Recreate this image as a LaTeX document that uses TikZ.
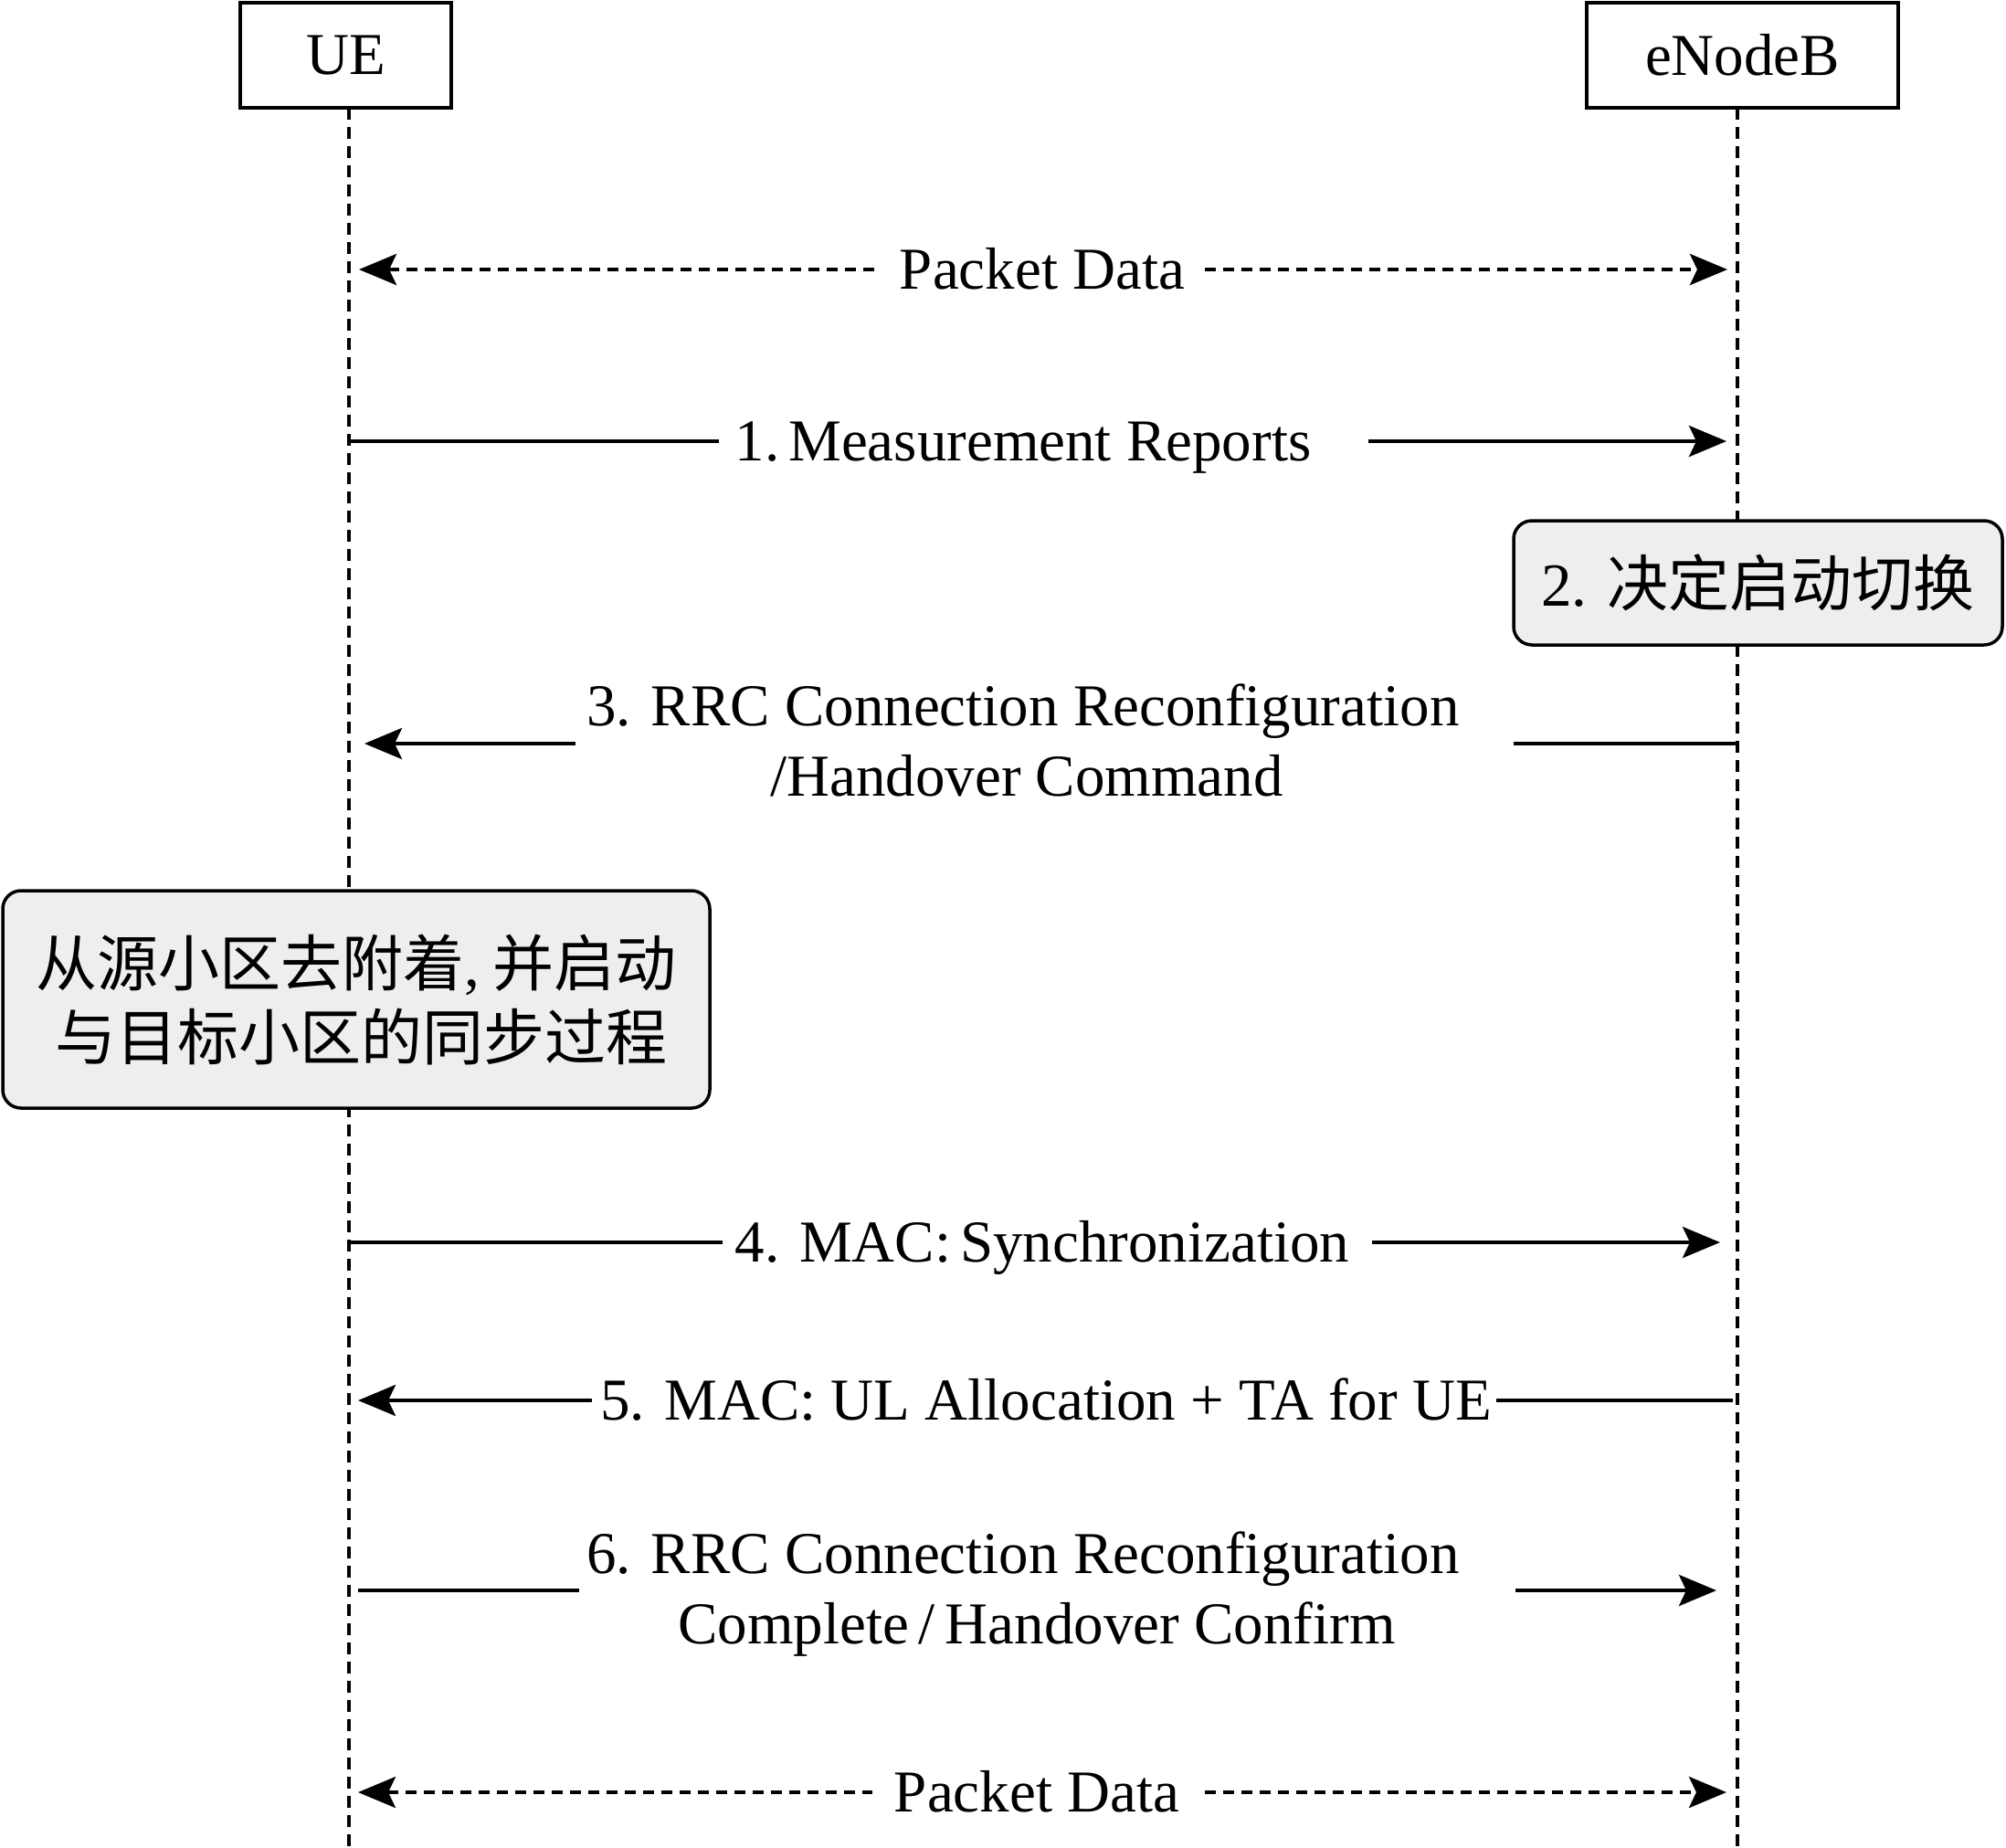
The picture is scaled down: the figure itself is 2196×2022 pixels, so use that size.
\documentclass[tikz,border=0pt]{standalone}
\usepackage{fontspec}
\setmainfont{Liberation Serif}
\newfontfamily\cjk{Noto Sans CJK SC}
\usetikzlibrary{arrows.meta}
\definecolor{boxgray}{RGB}{238,238,238}
\begin{document}
\begin{tikzpicture}[x=1pt,y=-1pt,
  font=\fontsize{65pt}{78pt}\selectfont,
  >={Stealth[length=41pt,width=34pt,inset=8pt]},
  lifeline/.style={line width=3.5pt,dash pattern=on 13pt off 8pt},
  actor/.style={draw,line width=3.5pt,inner sep=0pt},
  notebox/.style={draw,line width=3.5pt,fill=boxgray,rounded corners=20pt,align=center,inner sep=0pt,
    font=\fontsize{67pt}{81pt}\selectfont\cjk},
  msgline/.style={line width=4pt},
  pktline/.style={line width=4pt,dash pattern=on 12pt off 8pt},
  lbl/.style={anchor=base,inner sep=0pt}]
\useasboundingbox (0,0) rectangle (2196,2022);

% actors
\node[actor,minimum width=231pt,minimum height=115pt] (ue) at (378.5,60.5) {UE};
\node[actor,minimum width=341pt,minimum height=115pt] (enb) at (1907.5,60.5) {eNodeB};

% lifelines
\coordinate (ueTop) at (382,118);  \coordinate (ueBot) at (382,2022);
\coordinate (enbTop) at (1902,118); \coordinate (enbBot) at (1902,2022);
\draw[lifeline] (ueTop) -- (ueBot);
\draw[lifeline] (enbTop) -- (enbBot);

% notes
\node[notebox,minimum width=535pt,minimum height=136pt] (decide) at (1924.5,638) {{\rmfamily 2. }决定启动切换};
\node[notebox,minimum width=774pt,minimum height=238pt] (detach) at (390,1094)
  {从源小区去附着{\rmfamily,} 并启动\\\hspace*{12pt}与目标小区的同步过程};

% Packet Data (top)
\coordinate (p1a) at (393,295);  \coordinate (p1l) at (963,295);
\coordinate (p1r) at (1319,295); \coordinate (p1b) at (1891,295);
\node[lbl] (p1t) at (1141,316) {Packet Data};
\draw[pktline,<-] (p1a) -- (p1l);
\draw[pktline,->] (p1r) -- (p1b);

% 1. Measurement Reports
\coordinate (m1a) at (382,483);  \coordinate (m1l) at (787,483);
\coordinate (m1r) at (1498,483); \coordinate (m1b) at (1890,483);
\node[lbl] (m1t) at (1120,504) {1.\hspace{10pt}Measurement Reports};
\draw[msgline] (m1a) -- (m1l);
\draw[msgline,->] (m1r) -- (m1b);

% 3. RRC Connection Reconfiguration / Handover Command
\coordinate (m3a) at (1902,814); \coordinate (m3r) at (1657,814);
\coordinate (m3l) at (630,814);  \coordinate (m3b) at (399,814);
\node[lbl] (m3t1) at (1120,794) {3. RRC Connection Reconfiguration};
\node[lbl] (m3t2) at (1124,871) {/Handover Command};
\draw[msgline] (m3a) -- (m3r);
\draw[msgline,->] (m3l) -- (m3b);

% 4. MAC: Synchronization
\coordinate (m4a) at (382,1360);  \coordinate (m4l) at (791,1360);
\coordinate (m4r) at (1502,1360); \coordinate (m4b) at (1883,1360);
\node[lbl] (m4t) at (1141,1381) {4. MAC:\hspace{10pt}Synchronization};
\draw[msgline] (m4a) -- (m4l);
\draw[msgline,->] (m4r) -- (m4b);

% 5. MAC: UL Allocation + TA for UE
\coordinate (m5a) at (1897,1533); \coordinate (m5r) at (1638,1533);
\coordinate (m5l) at (648,1533);  \coordinate (m5b) at (392,1533);
\node[lbl] (m5t) at (1145,1554) {5. MAC: UL Allocation + TA for UE};
\draw[msgline] (m5a) -- (m5r);
\draw[msgline,->] (m5l) -- (m5b);

% 6. RRC Connection Reconfiguration Complete / Handover Confirm
\coordinate (m6a) at (392,1741);  \coordinate (m6l) at (634,1741);
\coordinate (m6r) at (1659,1741); \coordinate (m6b) at (1879,1741);
\node[lbl] (m6t1) at (1120,1722) {6. RRC Connection Reconfiguration};
\node[lbl] (m6t2) at (1135,1799) {Complete\,/\,Handover Confirm};
\draw[msgline] (m6a) -- (m6l);
\draw[msgline,->] (m6r) -- (m6b);

% Packet Data (bottom)
\coordinate (p2a) at (392,1962);  \coordinate (p2l) at (955,1962);
\coordinate (p2r) at (1319,1962); \coordinate (p2b) at (1890,1962);
\node[lbl] (p2t) at (1135,1983) {Packet Data};
\draw[pktline,<-] (p2a) -- (p2l);
\draw[pktline,->] (p2r) -- (p2b);
\end{tikzpicture}
\end{document}
